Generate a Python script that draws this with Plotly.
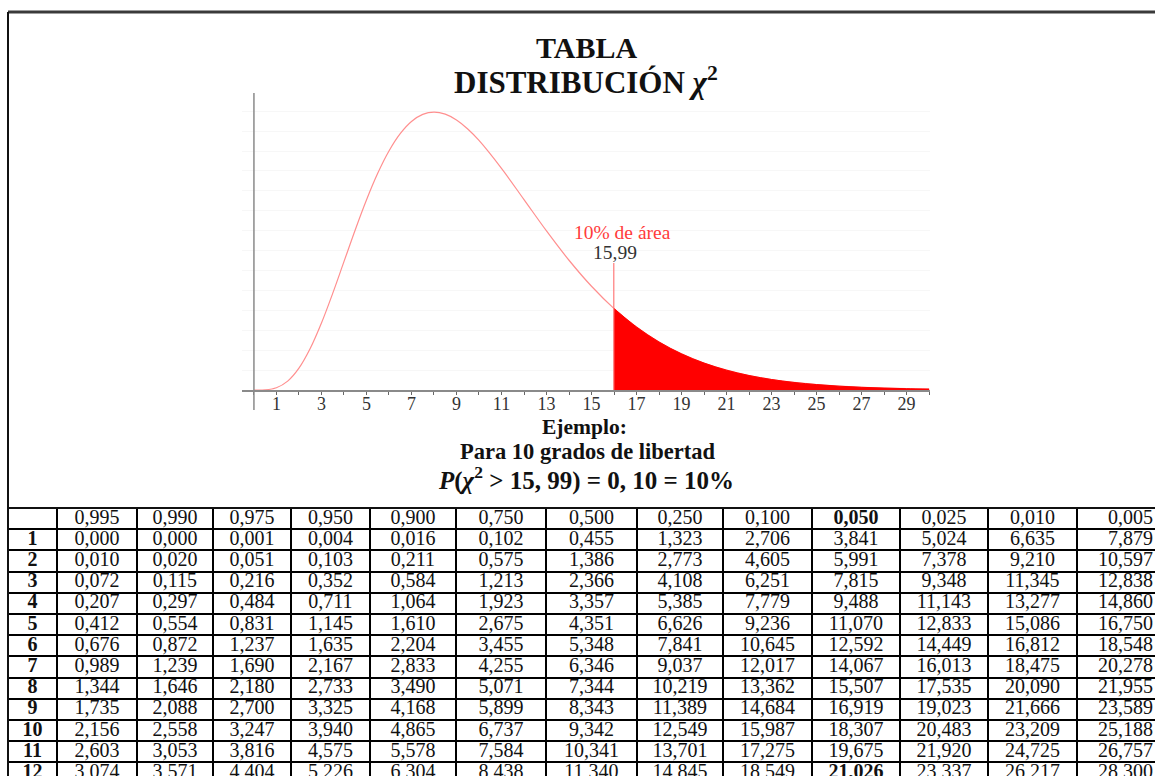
import plotly.graph_objects as go

W, H = 1155, 776

# ---------------- data ----------------
# chi-square density (10 degrees of freedom)
curve_x = [0, 0.5, 1, 1.5, 2, 2.5, 3, 3.5, 4, 4.5, 5, 5.5, 6, 6.5, 7, 7.5, 8, 8.5,
           9, 9.5, 10, 11, 12, 13, 14, 15, 15.99, 17, 18, 19, 20, 21, 22, 23, 24,
           25, 26, 27, 28, 29, 30]
curve_y = [0.0, 0.00006, 0.00079, 0.00311, 0.00766, 0.01457, 0.02353, 0.03396,
           0.04511, 0.05627, 0.06680, 0.07617, 0.08402, 0.09012, 0.09440, 0.09689,
           0.09768, 0.09695, 0.09490, 0.09176, 0.08773, 0.07791, 0.06693, 0.05591,
           0.04561, 0.03646, 0.02870, 0.02213, 0.01687, 0.01270, 0.00946, 0.00697,
           0.00509, 0.00369, 0.00265, 0.00190, 0.00134, 0.00095, 0.00067, 0.00046,
           0.00032]
critical_value = 15.99
marker_top = 0.0446
axis_labels = [1, 3, 5, 7, 9, 11, 13, 15, 17, 19, 21, 23, 25, 27, 29]

alphas = ["0,995", "0,990", "0,975", "0,950", "0,900", "0,750", "0,500",
          "0,250", "0,100", "0,050", "0,025", "0,010", "0,005"]
dfs = [1, 2, 3, 4, 5, 6, 7, 8, 9, 10, 11, 12]
row_1 = [0.000, 0.000, 0.001, 0.004, 0.016, 0.102, 0.455, 1.323, 2.706, 3.841, 5.024, 6.635, 7.879]
row_2 = [0.010, 0.020, 0.051, 0.103, 0.211, 0.575, 1.386, 2.773, 4.605, 5.991, 7.378, 9.210, 10.597]
row_3 = [0.072, 0.115, 0.216, 0.352, 0.584, 1.213, 2.366, 4.108, 6.251, 7.815, 9.348, 11.345, 12.838]
row_4 = [0.207, 0.297, 0.484, 0.711, 1.064, 1.923, 3.357, 5.385, 7.779, 9.488, 11.143, 13.277, 14.860]
row_5 = [0.412, 0.554, 0.831, 1.145, 1.610, 2.675, 4.351, 6.626, 9.236, 11.070, 12.833, 15.086, 16.750]
row_6 = [0.676, 0.872, 1.237, 1.635, 2.204, 3.455, 5.348, 7.841, 10.645, 12.592, 14.449, 16.812, 18.548]
row_7 = [0.989, 1.239, 1.690, 2.167, 2.833, 4.255, 6.346, 9.037, 12.017, 14.067, 16.013, 18.475, 20.278]
row_8 = [1.344, 1.646, 2.180, 2.733, 3.490, 5.071, 7.344, 10.219, 13.362, 15.507, 17.535, 20.090, 21.955]
row_9 = [1.735, 2.088, 2.700, 3.325, 4.168, 5.899, 8.343, 11.389, 14.684, 16.919, 19.023, 21.666, 23.589]
row_10 = [2.156, 2.558, 3.247, 3.940, 4.865, 6.737, 9.342, 12.549, 15.987, 18.307, 20.483, 23.209, 25.188]
row_11 = [2.603, 3.053, 3.816, 4.575, 5.578, 7.584, 10.341, 13.701, 17.275, 19.675, 21.920, 24.725, 26.757]
row_12 = [3.074, 3.571, 4.404, 5.226, 6.304, 8.438, 11.340, 14.845, 18.549, 21.026, 23.337, 26.217, 28.300]
table_rows = [row_1, row_2, row_3, row_4, row_5, row_6, row_7, row_8, row_9, row_10, row_11, row_12]

# ---------------- layout helpers ----------------
def fx(p):
    return p / W

def fy(p):
    return 1 - p / H

SERIF = "Liberation Serif, Times New Roman, serif"
TXT = "#111111"

fig = go.Figure()

# ---------------- chart ----------------
fig.add_trace(go.Scatter(
    x=curve_x, y=curve_y, mode="lines", line=dict(color="#ff8f8f", width=1.2, shape="spline"),
    hoverinfo="skip", showlegend=False, xaxis="x", yaxis="y"))

tail_x = [x for x in curve_x if x >= critical_value]
tail_y = [y for x, y in zip(curve_x, curve_y) if x >= critical_value]
fig.add_trace(go.Scatter(
    x=tail_x, y=tail_y, mode="lines", fill="tozeroy", fillcolor="#ff0000",
    line=dict(color="#ff0000", width=1, shape="spline"),
    hoverinfo="skip", showlegend=False, xaxis="x", yaxis="y"))

fig.add_trace(go.Scatter(
    x=[critical_value, critical_value], y=[0, marker_top], mode="lines",
    line=dict(color="#ff7a7a", width=1.2), hoverinfo="skip", showlegend=False,
    xaxis="x", yaxis="y", cliponaxis=False))

# ---------------- table ----------------
col_edges = [8, 57, 137, 213, 291, 370, 456, 546, 637, 723, 812, 900, 988, 1077, 1175]
row_top = 508
row_h = 21.2
n_rows = len(dfs) + 1
row_edges = [row_top + row_h * k for k in range(1, n_rows + 1)]

tx, ty, tt, tp = [], [], [], []
label_cx = (col_edges[0] + col_edges[1]) / 2
data_cx = [(col_edges[i] + col_edges[i + 1]) / 2 for i in range(1, len(col_edges) - 1)]
last_right = 1153

def place(ci, y, text):
    if ci == len(alphas) - 1:
        tx.append(last_right)
        tp.append("middle left")
    else:
        tx.append(data_cx[ci])
        tp.append("middle center")
    ty.append(y)
    tt.append(text)

hy = row_top + row_h / 2
for ci, a in enumerate(alphas):
    place(ci, hy, f"<b>{a}</b>" if a == "0,050" else a)

for ri, (d, vals) in enumerate(zip(dfs, table_rows)):
    y = row_top + row_h * (ri + 1.5)
    tx.append(label_cx); ty.append(y); tt.append(f"<b>{d}</b>"); tp.append("middle center")
    for ci, v in enumerate(vals):
        s = f"{v:.3f}".replace(".", ",")
        if d == 12 and alphas[ci] == "0,050":
            s = f"<b>{s}</b>"
        place(ci, y, s)

fig.add_trace(go.Scatter(
    x=tx, y=ty, text=tt, mode="text", textposition=tp,
    textfont=dict(family=SERIF, size=20, color=TXT),
    hoverinfo="skip", showlegend=False, xaxis="x2", yaxis="y2", cliponaxis=True))

# ---------------- axes ----------------
fig.update_layout(
    width=W, height=H,
    margin=dict(l=0, r=0, t=0, b=0),
    paper_bgcolor="white", plot_bgcolor="white",
    xaxis=dict(
        domain=[fx(242), fx(930)], range=[-0.53, 30.04], anchor="y",
        showline=True, linecolor="#8a8a8a", linewidth=1.5, layer="below traces",
        tickvals=axis_labels, ticks="outside", ticklen=3, tickcolor="#666",
        ticklabelstandoff=-6,
        minor=dict(tickvals=list(range(0, 31)), ticks="outside", ticklen=3, tickcolor="#666"),
        tickfont=dict(family=SERIF, size=18, color="#333"),
        showgrid=False, zeroline=False, fixedrange=True),
    yaxis=dict(
        domain=[fy(390), fy(93)], range=[0, 0.1044], anchor="x",
        showline=False, showticklabels=False, ticks="",
        showgrid=True, gridcolor="#f7f7f7", gridwidth=1, dtick=0.007,
        zeroline=False, fixedrange=True),
    xaxis2=dict(
        domain=[fx(8), 1], range=[8, 1155], anchor="y2",
        showline=False, showticklabels=False, ticks="",
        tickvals=col_edges[1:-1], showgrid=True, gridcolor="#000", gridwidth=2,
        zeroline=False, fixedrange=True),
    yaxis2=dict(
        domain=[0, fy(508)], range=[776, 508], anchor="x2",
        showline=False, showticklabels=False, ticks="",
        tickvals=row_edges, showgrid=True, gridcolor="#000", gridwidth=2,
        zeroline=False, fixedrange=True),
)

# frame lines
fig.add_shape(type="line", xref="paper", yref="paper", x0=fx(8), x1=1.01, y0=fy(12), y1=fy(12),
              line=dict(color="#3a3a3a", width=3))
fig.add_shape(type="line", xref="paper", yref="paper", x0=fx(8), x1=fx(8), y0=fy(12), y1=-0.01,
              line=dict(color="#111", width=2))
fig.add_shape(type="line", xref="paper", yref="paper", x0=fx(8), x1=1.01, y0=fy(508), y1=fy(508),
              line=dict(color="#111", width=2))
# vertical axis of the density plot (extends slightly below the x axis)
fig.add_shape(type="line", xref="x", yref="paper", x0=0, x1=0, y0=fy(410), y1=fy(93),
              line=dict(color="#8a8a8a", width=1.5))

# ---------------- texts ----------------
def ann(text, x, y, size, color=TXT, xref="paper", yref="paper"):
    fig.add_annotation(text=text, x=x, y=y, xref=xref, yref=yref, showarrow=False,
                       font=dict(family=SERIF, size=size, color=color),
                       xanchor="center", yanchor="middle")

ann("<b>TABLA</b>", fx(586), fy(47), 30)
ann("<b>DISTRIBUCIÓN <i>χ</i><sup>2</sup></b>", fx(586), fy(81), 31)
ann("10% de área", 16.36, 0.0555, 19.5, color="#ff3b3b", xref="x", yref="y")
ann("15,99", 16.05, 0.0485, 19.5, color="#333", xref="x", yref="y")
ann("<b>Ejemplo:</b>", fx(585), fy(427), 21.5)
ann("<b>Para 10 grados de libertad</b>", fx(587), fy(451), 22.5)
ann("<b><i>P</i>(<i>χ</i><sup>2</sup> > 15, 99) = 0, 10 = 10%</b>", fx(586), fy(478), 25)

fig.write_html("out.html")
